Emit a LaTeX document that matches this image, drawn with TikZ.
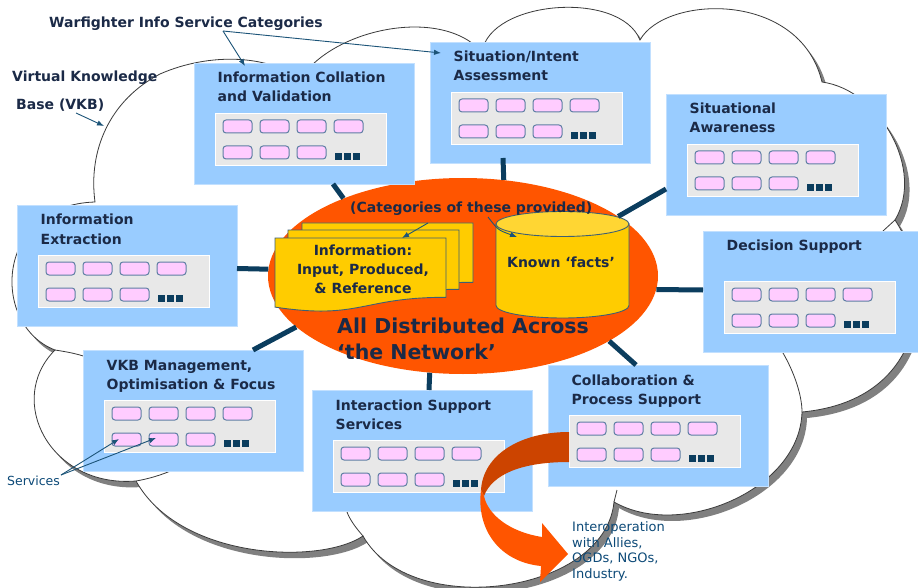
\documentclass[tikz,border=0pt]{standalone}
\usepackage{fontspec}
\setmainfont{DejaVu Sans}
\usetikzlibrary{shapes.geometric,arrows.meta,calc}

\definecolor{boxblue}{HTML}{99CCFF}
\definecolor{panelgray}{HTML}{E8E8E8}
\definecolor{pillpink}{HTML}{FFCCFF}
\definecolor{pilledge}{HTML}{5E7FA3}
\definecolor{linkblue}{HTML}{0B3D5E}
\definecolor{netorange}{HTML}{FF5500}
\definecolor{ribbondark}{HTML}{CC4400}
\definecolor{docyellow}{HTML}{FFCC00}
\definecolor{doclight}{HTML}{FFD633}
\definecolor{docedge}{HTML}{3E5F73}
\definecolor{inktext}{HTML}{1B2A47}
\definecolor{notetext}{HTML}{0D4A78}
\definecolor{noteline}{HTML}{1C5478}
\definecolor{cloudline}{HTML}{3A3A3A}
\definecolor{cloudshadow}{HTML}{808080}

\tikzset{
  svc/.style={fill=boxblue, draw=boxblue!60!white, line width=0.8pt,
    minimum width=220pt, minimum height=121pt, inner sep=0pt, outer sep=0pt},
  panel/.style={fill=panelgray, draw=white, line width=1.2pt,
    minimum width=171pt, minimum height=52pt, inner sep=0pt},
  pill/.style={fill=pillpink, draw=pilledge, line width=1pt, rounded corners=3pt,
    minimum width=29pt, minimum height=13pt, inner sep=0pt},
  ttl/.style={font=\bfseries\fontsize{14}{19}\selectfont, text=inktext, inner sep=0pt},
  link/.style={draw=linkblue, line width=5pt},
  note/.style={draw=noteline, line width=0.9pt, -{Latex[length=7pt,width=5.5pt]}},
  docst/.style={fill=docyellow, draw=docedge, line width=0.9pt},
  % outline of the cloud: one Bezier bulge per lobe, cusp to cusp
  cloudpath/.style={insert path={
    (95,202) .. controls (88,150) and (110,100) .. (160,74)
             .. controls (210,52) and (270,55) .. (300,80)
             .. controls (330,30) and (440,5) .. (482,52)
             .. controls (490,0) and (620,-10) .. (640,40)
             .. controls (665,-5) and (800,-10) .. (822,82)
             .. controls (880,90) and (925,170) .. (895,220)
             .. controls (935,280) and (930,400) .. (802,412)
             .. controls (800,490) and (680,540) .. (614,502)
             .. controls (605,595) and (410,620) .. (363,536)
             .. controls (320,565) and (180,560) .. (136,481)
             .. controls (50,488) and (5,400) .. (55,350)
             .. controls (-10,325) and (-5,205) .. (95,202)
    -- cycle}},
}

% one service category: blue box, two-line title, grey panel with pills
\newcommand{\svcbox}[5]{%
  \node[svc, anchor=north west] (#1) at (#2,#3) {};
  \node[ttl, anchor=base west] (#1-a) at ($(#1.north west)+(23.5,20)$) {#4};
  \node[ttl, anchor=base west] (#1-b) at ($(#1.north west)+(23.5,39)$) {#5};
  \node[panel, anchor=north west] (#1-p) at ($(#1.north west)+(21,50)$) {};
  \foreach \k in {0,1,2,3}
    \node[pill, anchor=north west] at ($(#1-p.north west)+({7.5+37*\k},6.5)$) {};
  \foreach \k in {0,1,2}
    \node[pill, anchor=north west] at ($(#1-p.north west)+({7.5+37*\k},32.5)$) {};
  \foreach \k in {0,1,2}
    \fill[linkblue] ($(#1-p.north west)+({120+9*\k},40)$) rectangle ++(7,7);
}

% stacked document sheet with wavy lower edge
\newcommand{\docsheet}[2]{%
  \draw[docst] (#1,#2) -- ({#1+171},#2) -- ({#1+171},{#2+59.3})
    .. controls ({#1+85.5},{#2+59.3}) and ({#1+85.5},{#2+82}) .. (#1,{#2+69.1}) -- cycle;
}

\begin{document}
\begin{tikzpicture}[x=1pt,y=-1pt]
\useasboundingbox (0,0) rectangle (918,588);
\fill[white] (0,0) rectangle (918,588);

% the knowledge-base cloud with its drop shadow
\begin{scope}[shift={(5,6)}]
  \fill[cloudshadow] [cloudpath];
\end{scope}
\filldraw[fill=white, draw=cloudline, line width=.8pt] [cloudpath];
\begin{scope}[draw=cloudline, line width=.8pt]
  \draw (55,350) .. controls (68,352) and (78,354) .. (86,357);
  \draw (136,481) .. controls (148,479) and (162,475) .. (175,469);
  \draw (363,536) .. controls (356,528) and (350,520) .. (347,512);
  \draw (614,502) -- (617,490);
  \draw (802,412) .. controls (802,395) and (794,372) .. (783,353);
  \draw (895,220) -- (883,231);
\end{scope}

% central network ellipse
\node[ellipse, fill=netorange, minimum width=390pt, minimum height=196pt, inner sep=0pt] (net) at (463,276) {};

% information documents
\docsheet{302}{223}
\docsheet{288}{230}
\docsheet{275}{238}
\node[ttl, anchor=base] (doc1) at (363,255) {Information:};
\node[ttl, anchor=base] (doc2) at (363,274) {Input, Produced,};
\node[ttl, anchor=base] (doc3) at (363,293) {\& Reference};

% known facts store
\draw[docst] (496,224) -- (496,305.5) arc[start angle=180, end angle=0, x radius=66.5, y radius=12.5] -- (629,224) -- cycle;
\draw[fill=doclight, draw=docedge, line width=0.9pt] (562.5,224) ellipse[x radius=66.5, y radius=12.5];
\node[ttl, anchor=base] (facts) at (561,267) {Known ‘facts’};

\node[ttl, anchor=base west] (cat) at (350,213) {(Categories of these provided)};
\coordinate (catA) at (428,223);
\coordinate (docTop) at (402,238);
\coordinate (catB) at (488,217);
\coordinate (cylTop) at (517,237);
\draw[note] (catA) -- (docTop);
\draw[note] (catB) .. controls (498,230) .. (cylTop);

\node[font=\bfseries\fontsize{20.5}{26}\selectfont, text=inktext, anchor=base west, inner sep=0pt] (all1) at (337,333) {All Distributed Across};
\node[font=\bfseries\fontsize{20.5}{26}\selectfont, text=inktext, anchor=base west, inner sep=0pt] (all2) at (337,359) {‘the Network’};

% service categories
\svcbox{ic}{194}{63}{Information Collation}{and Validation}
\svcbox{sia}{430}{42}{Situation/Intent}{Assessment}
\svcbox{sa}{666}{94}{Situational}{Awareness}
\svcbox{ie}{17}{205}{Information}{Extraction}
\svcbox{ds}{703}{231}{Decision Support}{}
\svcbox{vkb}{83}{350}{VKB Management,}{Optimisation \& Focus}
\svcbox{iss}{312}{390}{Interaction Support}{Services}
\svcbox{cps}{548}{365}{Collaboration \&}{Process Support}

% links from categories to the network
\draw[link] (ic.south west) ++(139,0) -- (net.147);
\draw[link] (sia.south west) ++(73,-5) -- (net.67);
\draw[link] (sa.south west) ++(0,-26) -- (net.21);
\draw[link] (ie.east) ++(0,3) -- (net.178);
\draw[link] (ds.west) ++(0,-1.5) -- (net.356);
\draw[link] (vkb.north west) ++(170,0) -- (net.197);
\draw[link] (iss.north west) ++(117,0) -- (net.251);
\draw[link] (cps.north west) ++(88,0) -- (net.336);

% twisted interoperation arrow
\fill[ribbondark] (569,432) .. controls (520,432) and (483,455) .. (481,490)
  -- (484,496) .. controls (492,475) and (520,462) .. (569,462) -- cycle;
\fill[netorange] (481,490) .. controls (476,530) and (500,562) .. (541,566)
  -- (540,582) -- (568,554) -- (542,523) -- (542,537)
  .. controls (510,532) and (488,515) .. (484,496) -- cycle;

% labels and pointers
\node[ttl, anchor=base west] (wf) at (49,28) {Warfighter Info Service Categories};
\coordinate (wfA) at (223,31);
\coordinate (icTop) at (245,66);
\coordinate (siaLeft) at (441,53);
\draw[note] (wfA) -- (icTop);
\draw[note] (wfA) -- (siaLeft);

\node[ttl, anchor=base west] (vk1) at (12,82) {Virtual Knowledge};
\node[ttl, anchor=base west] (vk2) at (16,110) {Base (VKB)};
\coordinate (vkA) at (76,113);
\coordinate (vkEdge) at (104,126);
\draw[note] (vkA) -- (vkEdge);

\node[font=\fontsize{12.5}{15}\selectfont, text=notetext, anchor=base west, inner sep=0pt] (srv) at (7,485) {Services};
\coordinate (srvA) at (61,475);
\coordinate (pillA) at (119,439);
\coordinate (pillB) at (156,438);
\draw[note] (srvA) -- (pillA);
\draw[note] (srvA) -- (pillB);

\node[font=\fontsize{13}{15.5}\selectfont, text=notetext, anchor=north west, align=left, inner sep=0pt] (interop) at (572,521.5)
  {Interoperation\\with Allies,\\OGDs, NGOs,\\Industry.};
\end{tikzpicture}
\end{document}
